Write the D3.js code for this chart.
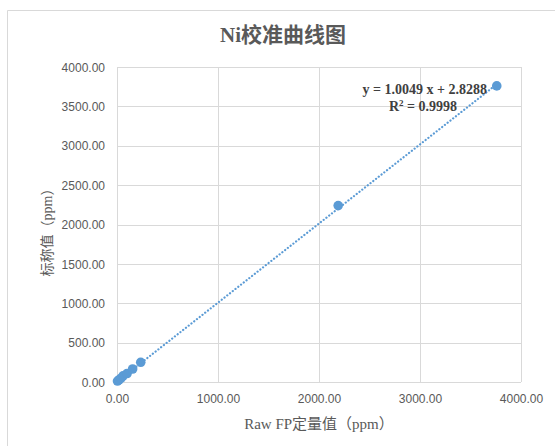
<!DOCTYPE html>
<html><head><meta charset="utf-8">
<script src="https://cdn.jsdelivr.net/npm/d3@7"></script>
<style>body{margin:0;background:#fff;}svg{display:block;}</style>
</head><body>
<svg id="c" width="555" height="446"></svg>
<script>
const xValues = [5, 20, 40, 60, 100, 155, 235, 2190, 3760];
const yValues = [12, 28, 48, 78, 108, 165, 250, 2240, 3760];
const tickValues = [0, 1000, 2000, 3000, 4000];
const yTickValues = [0, 500, 1000, 1500, 2000, 2500, 3000, 3500, 4000];
const slope = 1.0049, intercept = 2.8288;
const title = "Ni校准曲线图";
const xTitle = "Raw FP定量值（ppm）";
const yTitle = "标称值（ppm）";
const eqText = "y = 1.0049 x + 2.8288";
const r2Text = "0.9998";

const svg = d3.select("#c");
const m = {l:117, r:521, t:67, b:382};
const x = d3.scaleLinear().domain([0,4000]).range([m.l, m.r]);
const y = d3.scaleLinear().domain([0,4000]).range([m.b, m.t]);

// chart frame
svg.append("line").attr("x1",7.5).attr("x2",555).attr("y1",10.5).attr("y2",10.5).attr("stroke","#d9d9d9");
svg.append("line").attr("x1",7.5).attr("x2",7.5).attr("y1",10.5).attr("y2",446).attr("stroke","#d9d9d9");

// gridlines
svg.append("g").selectAll("line").data(yTickValues).join("line")
  .attr("x1",m.l).attr("x2",m.r).attr("y1",d=>Math.round(y(d))+0.5).attr("y2",d=>Math.round(y(d))+0.5)
  .attr("stroke","#d9d9d9");
svg.append("g").selectAll("line").data(tickValues).join("line")
  .attr("y1",m.t).attr("y2",m.b).attr("x1",d=>Math.round(x(d))+0.5).attr("x2",d=>Math.round(x(d))+0.5)
  .attr("stroke","#d9d9d9");

// axes labels via d3 axes
const fmt = d3.format(".2f");
const xAxis = svg.append("g").attr("transform",`translate(0,${m.b+9})`)
  .call(d3.axisBottom(x).tickValues(tickValues).tickFormat(fmt).tickSize(0));
const yAxis = svg.append("g").attr("transform",`translate(${m.l-9},0)`)
  .call(d3.axisLeft(y).tickValues(yTickValues).tickFormat(fmt).tickSize(0));
[xAxis,yAxis].forEach(a=>{
  a.select(".domain").remove();
  a.selectAll("text").attr("fill","#595959").style("font-family","Liberation Sans, Arial, sans-serif").style("font-size","12px");
});
yAxis.selectAll("text").attr("dy","0.35em");

// trendline
const x0 = 0, x1 = d3.max(xValues);
svg.append("line")
  .attr("x1",x(x0)).attr("y1",y(slope*x0+intercept))
  .attr("x2",x(x1)).attr("y2",y(slope*x1+intercept))
  .attr("stroke","#5B9BD5").attr("stroke-width",2.2)
  .attr("stroke-dasharray","0.1 3.4").attr("stroke-linecap","round");

// points
svg.append("g").selectAll("circle").data(xValues.map((v,i)=>[v,yValues[i]])).join("circle")
  .attr("cx",d=>x(d[0])).attr("cy",d=>y(d[1])).attr("r",4.8).attr("fill","#5B9BD5");

// title
svg.append("text").attr("x",283).attr("y",42).attr("text-anchor","middle")
  .attr("fill","#595959").style("font-size","21px").style("font-weight","bold")
  .style("font-family","Liberation Serif, Noto Sans CJK SC, serif").text(title);

// axis titles
svg.append("text").attr("x",319).attr("y",429).attr("text-anchor","middle")
  .attr("fill","#595959").style("font-size","15px")
  .style("font-family","Liberation Serif, Noto Sans CJK SC, serif").text(xTitle);
svg.append("text").attr("transform","translate(52,229) rotate(-90)").attr("text-anchor","middle")
  .attr("fill","#595959").style("font-size","14px")
  .style("font-family","Liberation Serif, Noto Sans CJK SC, serif").text(yTitle);

// equation
const eq = svg.append("g").attr("fill","#404040").style("font-family","Liberation Serif, Times New Roman, serif")
  .style("font-size","14px").style("font-weight","bold");
eq.append("text").attr("x",487).attr("y",94).attr("text-anchor","end").text(eqText);
const r2 = eq.append("text").attr("x",423).attr("y",111).attr("text-anchor","middle");
r2.append("tspan").text("R");
r2.append("tspan").attr("dy",-5).style("font-size","9px").text("2");
r2.append("tspan").attr("dy",5).text(" = " + r2Text);
</script>
</body></html>
